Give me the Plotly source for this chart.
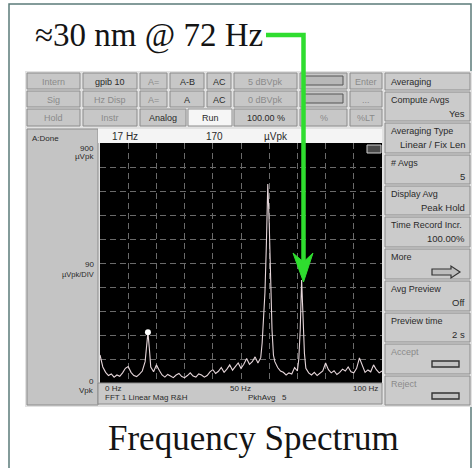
import plotly.graph_objects as go

# ---------------- data ----------------
freq_hz = [0, 1, 2, 3, 4, 5, 6, 7, 8, 9, 10, 11, 12, 13, 14, 15, 16, 16.5, 17, 17.5,
           18, 19, 20, 21, 22, 23, 24, 25, 26, 27, 28, 29, 30, 31, 32, 33, 34, 35, 36, 37,
           38, 39, 40, 41, 42, 43, 44, 45, 46, 47, 48, 49, 50, 51, 52, 53, 54, 55, 56, 57,
           57.5, 58, 58.5, 59, 59.5, 60, 60.5, 61, 61.5, 62, 63, 64, 65, 66, 67, 68, 69, 70,
           70.5, 71, 71.5, 72, 72.5, 73, 74, 75, 76, 77, 78, 79, 80, 81, 82, 83, 84, 85, 86,
           87, 88, 89, 90, 91, 92, 93, 94, 95, 96, 97, 98, 99, 100]
amp_uvpk = [105, 60, 40, 28, 34, 22, 30, 25, 38, 55, 62, 40, 28, 24, 33, 45, 80, 140, 190, 130,
            60, 42, 68, 48, 30, 22, 32, 26, 20, 30, 36, 24, 20, 28, 38, 26, 22, 34, 30, 22,
            28, 42, 50, 36, 44, 58, 40, 52, 68, 48, 62, 75, 55, 70, 92, 70, 80, 98, 75, 95,
            150, 230, 340, 520, 746, 600, 380, 200, 105, 80, 58, 45, 40, 30, 38, 34, 58, 45,
            90, 200, 386, 250, 110, 55, 38, 30, 40, 28, 35, 45, 75, 50, 38, 46, 32, 40, 52,
            45, 60, 42, 38, 55, 94, 65, 40, 49, 42, 68, 50, 38, 45]
marker_freq_hz = [17]
marker_amp_uvpk = [190]

title_text = "≈30 nm @ 72 Hz"
caption_text = "Frequency Spectrum"
header_texts = ["17 Hz", "170", "µVpk"]
left_labels = ["A:Done", "900", "µVpk", "90", "µVpk/DIV", "0", "Vpk"]
bottom_labels = ["0 Hz", "FFT 1 Linear Mag R&H", "50 Hz", "PkhAvg   5", "100 Hz"]

row1_labels = ["Intern", "gpib 10", "A=", "A-B", "AC", "5 dBVpk", "", "Enter"]
row2_labels = ["Sig", "Hz Disp", "A=", "A", "AC", "0 dBVpk", "", "..."]
row3_labels = ["Hold", "Instr", "Analog", "Run", "100.00 %", "%", "%LT"]

softkey_labels = ["Averaging", "Compute Avgs", "Averaging Type", "# Avgs", "Display Avg",
                  "Time Record Incr.", "More", "Avg Preview", "Preview time", "Accept", "Reject"]
softkey_values = ["", "Yes", "Linear / Fix Len", "5", "Peak Hold", "100.00%", "", "Off", "2 s", "", ""]

# ---------------- layout helpers ----------------
W, H = 476, 468
def X(p): return p / W
def Y(p): return 1 - p / H

shapes = []
annotations = []

def rect(x0, y0, x1, y1, fill=None, line=None, lw=1, layer="above"):
    shapes.append(dict(type="rect", xref="paper", yref="paper",
                       x0=X(x0), x1=X(x1), y0=Y(y1), y1=Y(y0),
                       fillcolor=fill if fill else "rgba(0,0,0,0)",
                       line=dict(color=line if line else "rgba(0,0,0,0)", width=lw if line else 0),
                       layer=layer))

def path(points, fill=None, line=None, lw=1, closed=True, layer="above"):
    d = "M " + " L ".join(f"{X(a):.5f},{Y(b):.5f}" for a, b in points)
    if closed:
        d += " Z"
    shapes.append(dict(type="path", xref="paper", yref="paper", path=d,
                       fillcolor=fill if fill else "rgba(0,0,0,0)",
                       line=dict(color=line if line else "rgba(0,0,0,0)", width=lw if line else 0),
                       layer=layer))

def text(px, py, s, size=9, color="#222", anchor="left", family="Liberation Sans"):
    annotations.append(dict(xref="paper", yref="paper", x=X(px), y=Y(py), text=s,
                            showarrow=False, xanchor=anchor, yanchor="middle",
                            font=dict(size=size, color=color, family=family)))

# outer frame
rect(9, 4, 471, 472, line="#5b7b79", lw=1.5, layer="below")
# instrument panel background
rect(25, 71, 472, 407, fill="#e2e2e2", layer="below")
# plot area backdrop
rect(100, 143, 382, 383, fill="#000000", layer="below")

BTN = "#c7c7c7"
BRD = "#8c8c8c"
DARK = "#2a2a2a"
GREY = "#8a8a8a"

# top button rows
cols12 = [(27, 80), (83, 137), (140, 167), (170, 204), (207, 231), (234, 297), (300, 347), (350, 382)]
cols3 = [(27, 80), (83, 137), (140, 186), (188, 232), (234, 297), (300, 347), (350, 382)]
row_y = [(73, 89), (91, 107), (109, 126)]
dark1 = [False, True, False, True, True, False, False, False]
dark2 = [False, False, False, True, True, False, False, False]
dark3 = [False, False, True, True, True, False, False]

for labels, cols, darks, (y0, y1) in [(row1_labels, cols12, dark1, row_y[0]),
                                      (row2_labels, cols12, dark2, row_y[1]),
                                      (row3_labels, cols3, dark3, row_y[2])]:
    for lab, (x0, x1), dk in zip(labels, cols, darks):
        fill = "#f6f6f6" if lab == "Run" else BTN
        rect(x0, y0, x1, y1, fill=fill, line=BRD, lw=1)
        if lab:
            text((x0 + x1) / 2, (y0 + y1) / 2 + 0.5, lab, size=9, color=DARK if dk else GREY, anchor="center")
# small graphics inside column-7 keys of rows 1 and 2
for (y0, y1) in row_y[:2]:
    rect(304, y0 + 3, 343, y1 - 4, fill="#b8b8b8", line="#555555", lw=1)

# right soft-key column
sk_y = [(73, 90), (92, 121), (123, 153), (155, 184), (186, 215), (217, 247),
        (249, 279), (281, 311), (313, 342), (344, 374), (376, 405)]
for lab, val, (y0, y1) in zip(softkey_labels, softkey_values, sk_y):
    rect(385, y0, 470, y1, fill="#cbcbcb", line=BRD, lw=1)
    col = GREY if lab in ("Accept", "Reject") else DARK
    if y1 - y0 < 20:
        text(389, (y0 + y1) / 2, lab, size=9, color=col)
    else:
        text(389, y0 + 7.5, lab, size=9, color=col)
        if val:
            text(467, y0 + 21, val, size=9.5, color=DARK, anchor="right")
# "More" arrow icon
path([(432, 269), (451, 269), (451, 266), (460, 272), (451, 278), (451, 275), (432, 275)],
     fill="#bdbdbd", line="#333333", lw=1.2)
# Accept / Reject icons
for (y0, y1) in sk_y[9:]:
    rect(432, y0 + 17, 459, y0 + 23, fill="#c2c2c2", line="#333333", lw=1.4)

# left annotation panel
rect(27, 129, 98, 405, fill="#c4c4c4", line=BRD, lw=1)
text(30, 138, left_labels[0], size=8, color=DARK)
text(96, 148, left_labels[1], size=8, color=DARK, anchor="right")
text(96, 157, left_labels[2], size=8, color=DARK, anchor="right")
text(96, 264, left_labels[3], size=8, color=DARK, anchor="right")
text(96, 274, left_labels[4], size=7.5, color=DARK, anchor="right")
text(96, 381, left_labels[5], size=8, color=DARK, anchor="right")
text(96, 390, left_labels[6], size=8, color=DARK, anchor="right")

# header strip above the trace
rect(98, 129, 382, 143, fill="#f4f4f4")
text(110, 136, header_texts[0], size=10, color=DARK)
text(204, 136, header_texts[1], size=10, color=DARK)
text(262, 136, header_texts[2], size=10, color=DARK)

# bottom strip below the trace
rect(98, 383, 382, 404, fill="#c8c8c8", line=BRD, lw=1)
text(103, 388, bottom_labels[0], size=8, color=DARK)
text(103, 397.5, bottom_labels[1], size=8, color=DARK)
text(228, 388, bottom_labels[2], size=8, color=DARK)
text(246, 397.5, bottom_labels[3], size=8, color=DARK)
text(380, 388, bottom_labels[4], size=8, color=DARK, anchor="right")

# small icon top-right of the trace
rect(367, 145, 381, 153, fill="#4a4a4a", line="#cfcfcf", lw=1)

# green pointer from the title to the 72 Hz peak
GREEN = "#2fdd2f"
path([(266, 35), (303.5, 35), (303.5, 262)], line=GREEN, lw=4.5, closed=False)
path([(293, 253), (303.5, 282), (313, 253), (303.5, 262)], fill=GREEN, line=GREEN, lw=1)

# titles
text(149, 36, title_text, size=33, color="#141414", anchor="center", family="Liberation Serif")
text(253, 438, caption_text, size=35, color="#141414", anchor="center", family="Liberation Serif")

# ---------------- figure ----------------
fig = go.Figure()
fig.add_trace(go.Scatter(x=freq_hz, y=amp_uvpk, mode="lines",
                         line=dict(color="#e6d6da", width=1.1), hoverinfo="skip", showlegend=False))
fig.add_trace(go.Scatter(x=marker_freq_hz, y=marker_amp_uvpk, mode="markers",
                         marker=dict(color="#ffffff", size=6), hoverinfo="skip", showlegend=False))

fig.update_layout(
    width=W, height=H, margin=dict(l=0, r=0, t=0, b=0),
    paper_bgcolor="#ffffff", plot_bgcolor="#000000",
    xaxis=dict(domain=[X(100), X(382)], range=[0, 100], dtick=10, tick0=0,
               showticklabels=False, ticks="", zeroline=False, showline=False,
               showgrid=True, gridcolor="#6a6a6a", griddash="6px,4px", gridwidth=1, fixedrange=True),
    yaxis=dict(domain=[Y(383), Y(143)], range=[0, 900], dtick=90, tick0=0,
               showticklabels=False, ticks="", zeroline=False, showline=False,
               showgrid=True, gridcolor="#6a6a6a", griddash="6px,4px", gridwidth=1, fixedrange=True),
    shapes=shapes, annotations=annotations, showlegend=False,
)

fig.write_html("out.html")
